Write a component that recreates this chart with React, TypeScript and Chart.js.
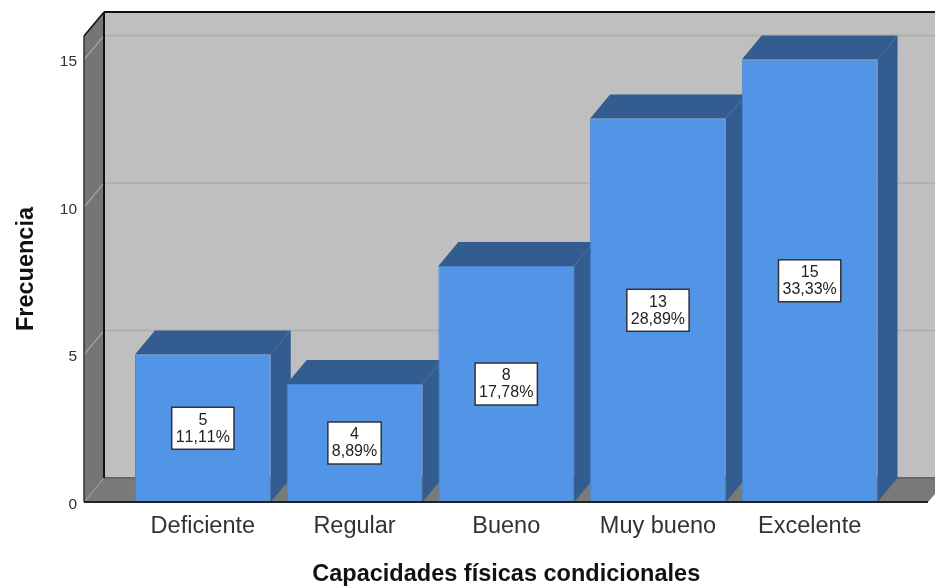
import React, { useEffect, useRef } from "react";
import { Chart, registerables } from "chart.js";

Chart.register(...registerables);

const categories = ["Deficiente", "Regular", "Bueno", "Muy bueno", "Excelente"];
const counts = [5, 4, 8, 13, 15];
const percents = ["11,11%", "8,89%", "17,78%", "28,89%", "33,33%"];
const yMax = 15.8;
const tickValues = [0, 5, 10, 15];
const xTitle = "Capacidades físicas condicionales";
const yTitle = "Frecuencia";

const DX = 20;
const DY = 24;
const FONT = '"Liberation Sans", Arial, sans-serif';

const threeD = {
  id: "threeD",
  beforeDatasetsDraw(chart: any) {
    const { ctx, scales, canvas } = chart;
    const y = scales.y;
    const y0 = y.getPixelForValue(0);
    const yTop = y.top;
    const left = 84;
    const right = 928;
    const W = canvas.width;
    const poly = (pts: number[][], fill: string) => {
      ctx.beginPath();
      pts.forEach((p, i) => (i ? ctx.lineTo(p[0], p[1]) : ctx.moveTo(p[0], p[1])));
      ctx.closePath();
      ctx.fillStyle = fill;
      ctx.fill();
    };
    const line = (a: number[], b: number[], color: string, w: number) => {
      ctx.beginPath();
      ctx.moveTo(a[0], a[1]);
      ctx.lineTo(b[0], b[1]);
      ctx.strokeStyle = color;
      ctx.lineWidth = w;
      ctx.stroke();
    };
    ctx.save();
    poly([[left + DX, yTop - DY], [W, yTop - DY], [W, y0 - DY], [left + DX, y0 - DY]], "#bfbfbf");
    poly([[left, yTop], [left + DX, yTop - DY], [left + DX, y0 - DY], [left, y0]], "#757575");
    poly([[left, y0], [left + DX, y0 - DY], [W, y0 - DY], [W, y0 - 8], [right, y0]], "#7a7a7a");
    tickValues.filter((v) => v > 0).forEach((v) => {
      const p = y.getPixelForValue(v);
      line([left + DX, p - DY], [W, p - DY], "#b0b0b0", 2);
      line([left, p], [left + DX, p - DY], "#a8a8a8", 1.2);
    });
    line([left, y0], [left + DX, y0 - DY], "#a0a0a0", 1);
    line([left + DX, y0 - DY], [W, y0 - DY], "#666666", 2);
    line([left, yTop], [left + DX, yTop - DY], "#111111", 1.5);
    line([left + DX, yTop - DY], [W, yTop - DY], "#111111", 2);
    line([left + DX, yTop - DY], [left + DX, y0 - DY], "#111111", 2);
    line([left, yTop], [left, y0], "#333333", 1.5);
    const meta = chart.getDatasetMeta(0);
    meta.data.forEach((bar: any) => {
      const hw = bar.width / 2;
      const l = bar.x - hw;
      const r = bar.x + hw;
      const t = bar.y;
      const b = bar.base;
      poly([[l, t], [l + DX, t - DY], [r + DX, t - DY], [r, t]], "#335d91");
      poly([[r, t], [r + DX, t - DY], [r + DX, b - DY], [r, b]], "#335d91");
    });
    ctx.restore();
  },
  afterDatasetsDraw(chart: any) {
    const { ctx, scales } = chart;
    const y0 = scales.y.getPixelForValue(0);
    ctx.save();
    ctx.beginPath();
    ctx.moveTo(84, y0);
    ctx.lineTo(928, y0);
    ctx.strokeStyle = "#222222";
    ctx.lineWidth = 2;
    ctx.stroke();
    const meta = chart.getDatasetMeta(0);
    ctx.font = `16px ${FONT}`;
    ctx.fontKerning = "none";
    ctx.textAlign = "center";
    ctx.textBaseline = "middle";
    meta.data.forEach((bar: any, i: number) => {
      const cy = scales.y.getPixelForValue(counts[i] / 2);
      const w = ctx.measureText(percents[i]).width + 8;
      const h = 42;
      ctx.fillStyle = "#ffffff";
      ctx.fillRect(bar.x - w / 2, cy - h / 2, w, h);
      ctx.strokeStyle = "#333333";
      ctx.lineWidth = 1.5;
      ctx.strokeRect(bar.x - w / 2, cy - h / 2, w, h);
      ctx.fillStyle = "#222222";
      ctx.fillText(String(counts[i]), bar.x, cy - 8);
      ctx.fillText(percents[i], bar.x, cy + 9);
    });
    ctx.restore();
  },
};

export default function App() {
  const ref = useRef<HTMLCanvasElement>(null);
  useEffect(() => {
    document.body.style.margin = "0";
    const chart = new Chart(ref.current!, {
      type: "bar",
      data: {
        labels: categories,
        datasets: [
          {
            data: counts,
            backgroundColor: "#5294e5",
            borderColor: "#4a86d0",
            borderWidth: 1,
            barPercentage: 0.895,
            categoryPercentage: 1,
          },
        ],
      },
      options: {
        responsive: false,
        animation: false,
        layout: { padding: { top: 36, right: 49.5, left: 0, bottom: 0 } },
        plugins: { legend: { display: false }, tooltip: { enabled: false } },
        scales: {
          x: {
            grid: { display: false, drawTicks: false },
            border: { display: false },
            ticks: { color: "#333333", font: { family: FONT, size: 23.5 }, padding: 10, maxRotation: 0, autoSkip: false },
            title: { display: true, text: xTitle, color: "#111111", font: { family: FONT, size: 23.5, weight: "bold" }, padding: { top: 0, bottom: -2 } },
            afterFit: (s: any) => { s.height = 85; },
          },
          y: {
            min: 0,
            max: yMax,
            grid: { display: false, drawTicks: false },
            border: { display: false },
            afterBuildTicks: (s: any) => { s.ticks = tickValues.map((value) => ({ value })); },
            ticks: {
              color: "#333333",
              font: { family: FONT, size: 15.5, lineHeight: "5px" },
              padding: 50,
              callback: (v: any) => ["", String(v)],
            },
            title: { display: true, text: yTitle, color: "#111111", font: { family: FONT, size: 23.5, weight: "bold" }, padding: { top: 12, bottom: 0 } },
            afterFit: (s: any) => { s.width = 127; s.paddingTop = 0; s.paddingBottom = 0; },
          },
        },
      },
      plugins: [threeD],
    } as any);
    return () => chart.destroy();
  }, []);
  return <canvas ref={ref} width={935} height={587} style={{ display: "block" }} />;
}
